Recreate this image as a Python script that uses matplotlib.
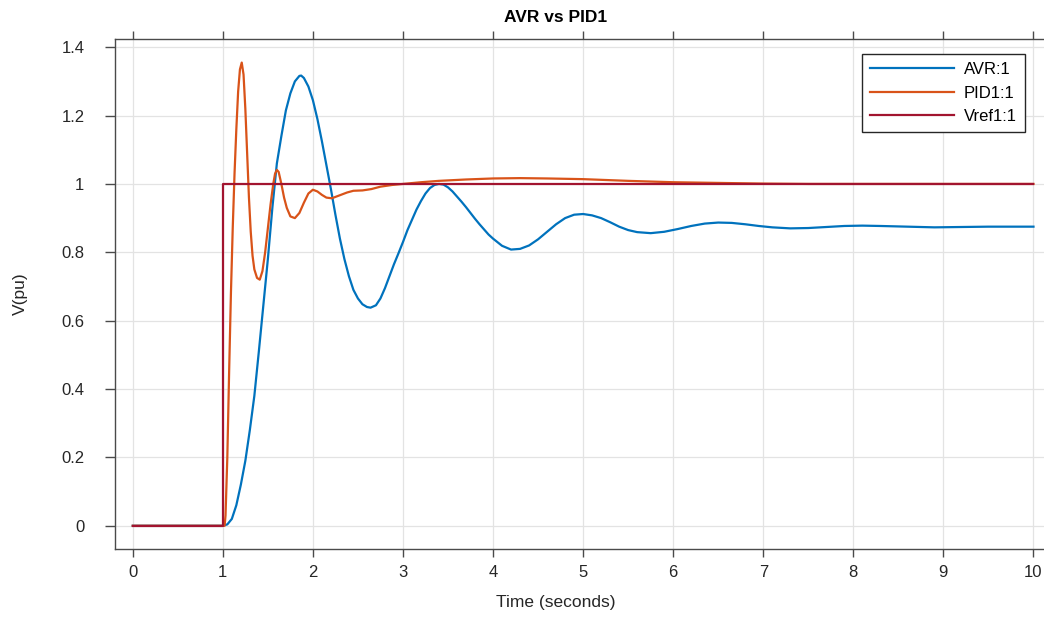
import matplotlib
matplotlib.use('Agg')
import matplotlib.pyplot as plt

plt.rcParams['font.family'] = ['Liberation Sans', 'DejaVu Sans']

# 数据
t_avr = [0, 1.0, 1.05, 1.10, 1.15, 1.20, 1.25, 1.30, 1.35, 1.40, 1.45, 1.50, 1.55,
         1.60, 1.65, 1.70, 1.75, 1.80, 1.85, 1.87, 1.90, 1.95, 2.00, 2.05, 2.10,
         2.15, 2.20, 2.25, 2.30, 2.35, 2.40, 2.45, 2.50, 2.55, 2.60, 2.64, 2.70,
         2.75, 2.80, 2.85, 2.90, 2.95, 3.00, 3.05, 3.10, 3.15, 3.20, 3.25, 3.30,
         3.35, 3.40, 3.45, 3.50, 3.55, 3.60, 3.65, 3.70, 3.75, 3.80, 3.85, 3.90,
         3.95, 4.00, 4.10, 4.20, 4.30, 4.40, 4.50, 4.60, 4.70, 4.80, 4.90, 5.00,
         5.10, 5.20, 5.30, 5.40, 5.50, 5.60, 5.75, 5.90, 6.05, 6.20, 6.35, 6.50,
         6.65, 6.80, 6.95, 7.10, 7.30, 7.50, 7.70, 7.90, 8.10, 8.30, 8.60, 8.90,
         9.20, 9.50, 10.0]
v_avr = [0, 0, 0.004, 0.02, 0.06, 0.12, 0.19, 0.28, 0.38, 0.51, 0.645, 0.78, 0.93,
         1.06, 1.14, 1.215, 1.265, 1.30, 1.316, 1.317, 1.31, 1.285, 1.245, 1.19, 1.125,
         1.055, 0.985, 0.91, 0.84, 0.78, 0.73, 0.69, 0.665, 0.648, 0.64, 0.638, 0.645,
         0.665, 0.695, 0.73, 0.765, 0.797, 0.83, 0.865, 0.895, 0.925, 0.95, 0.972, 0.988,
         0.997, 1.0, 0.998, 0.99, 0.978, 0.963, 0.948, 0.932, 0.915, 0.898, 0.882, 0.867,
         0.852, 0.84, 0.819, 0.808, 0.81, 0.82, 0.838, 0.86, 0.882, 0.90, 0.91, 0.912,
         0.908, 0.90, 0.888, 0.875, 0.865, 0.859, 0.856, 0.86, 0.868, 0.877, 0.884, 0.887,
         0.886, 0.882, 0.877, 0.873, 0.870, 0.871, 0.874, 0.877, 0.878, 0.877, 0.875, 0.873,
         0.874, 0.875, 0.875]

t_pid = [0, 1.0, 1.02, 1.03, 1.05, 1.07, 1.09, 1.11, 1.13, 1.15, 1.17, 1.19, 1.21,
         1.23, 1.25, 1.27, 1.29, 1.31, 1.33, 1.35, 1.38, 1.41, 1.44, 1.47, 1.50,
         1.53, 1.56, 1.58, 1.60, 1.62, 1.65, 1.68, 1.71, 1.75, 1.80, 1.85, 1.90,
         1.95, 2.00, 2.05, 2.10, 2.15, 2.21, 2.28, 2.38, 2.45, 2.55, 2.65, 2.75,
         2.88, 3.0, 3.2, 3.4, 3.7, 4.0, 4.3, 4.6, 5.0, 5.5, 6.0, 6.5, 7.0, 7.5,
         8.0, 9.0, 10.0]
v_pid = [0, 0, 0, 0.03, 0.2, 0.45, 0.68, 0.87, 1.03, 1.16, 1.27, 1.335, 1.355,
         1.32, 1.22, 1.09, 0.96, 0.86, 0.79, 0.75, 0.725, 0.72, 0.745, 0.80, 0.87,
         0.94, 1.0, 1.03, 1.041, 1.035, 1.0, 0.96, 0.93, 0.905, 0.90, 0.915, 0.945,
         0.972, 0.983, 0.978, 0.968, 0.96, 0.958, 0.965, 0.975, 0.98, 0.981, 0.985, 0.992,
         0.997, 1.0, 1.005, 1.009, 1.013, 1.016, 1.017, 1.016, 1.014, 1.009, 1.005, 1.003,
         1.001, 1.0, 1.0, 1.0, 1.0]

t_ref = [0, 1.0, 1.0, 10.0]
v_ref = [0, 0, 1, 1]

x_ticks = [0, 1, 2, 3, 4, 5, 6, 7, 8, 9, 10]
y_ticks = [0, 0.2, 0.4, 0.6, 0.8, 1.0, 1.2, 1.4]
y_ticklabels = ['0', '0.2', '0.4', '0.6', '0.8', '1', '1.2', '1.4']

fig = plt.figure(figsize=(10.44, 6.17), dpi=100)
ax = fig.add_axes([115 / 1044, 1 - 549 / 617, 932 / 1044, 510 / 617])

ax.plot(t_avr, v_avr, color='#0072BD', lw=1.6, label='AVR:1')
ax.plot(t_pid, v_pid, color='#D95319', lw=1.6, label='PID1:1')
ax.plot(t_ref, v_ref, color='#A2142F', lw=1.6, label='Vref1:1')

ax.set_xlim(-0.197, 10.15)
ax.set_ylim(-0.068, 1.424)
ax.set_xticks(x_ticks)
ax.set_yticks(y_ticks)
ax.set_yticklabels(y_ticklabels)

ax.grid(True, color='#e3e3e3', lw=0.9)
ax.set_axisbelow(True)

for s in ['left', 'bottom', 'top']:
    ax.spines[s].set_color('#4a4a4a')
    ax.spines[s].set_linewidth(1.0)
ax.spines['right'].set_visible(False)

ax.tick_params(axis='x', direction='out', length=5.5, width=1.0, color='#4a4a4a',
               labelsize=12, labelcolor='#262626', top=True, pad=6)
ax.tick_params(axis='y', direction='out', length=7, width=1.0, color='#4a4a4a',
               labelsize=12, labelcolor='#262626', pad=15)

ax.set_title('AVR vs PID1', fontsize=12.5, fontweight='bold', x=0.473, pad=12)
ax.set_xlabel('Time (seconds)', fontsize=12.5, color='#262626')
ax.xaxis.set_label_coords(0.473, -0.09)
ax.set_ylabel('V(pu)', fontsize=12.5, color='#262626')
ax.yaxis.set_label_coords(-0.093, 0.5)

leg = ax.legend(loc='upper right', bbox_to_anchor=(1 - 22 / 932, 1 - 15 / 510),
                fontsize=12, handlelength=5.0, handletextpad=0.6, labelspacing=0.5,
                borderpad=0.5, borderaxespad=0, fancybox=False, framealpha=1)
leg.get_frame().set_edgecolor('#262626')
leg.get_frame().set_linewidth(1.0)

plt.savefig('out.png', dpi=100)
